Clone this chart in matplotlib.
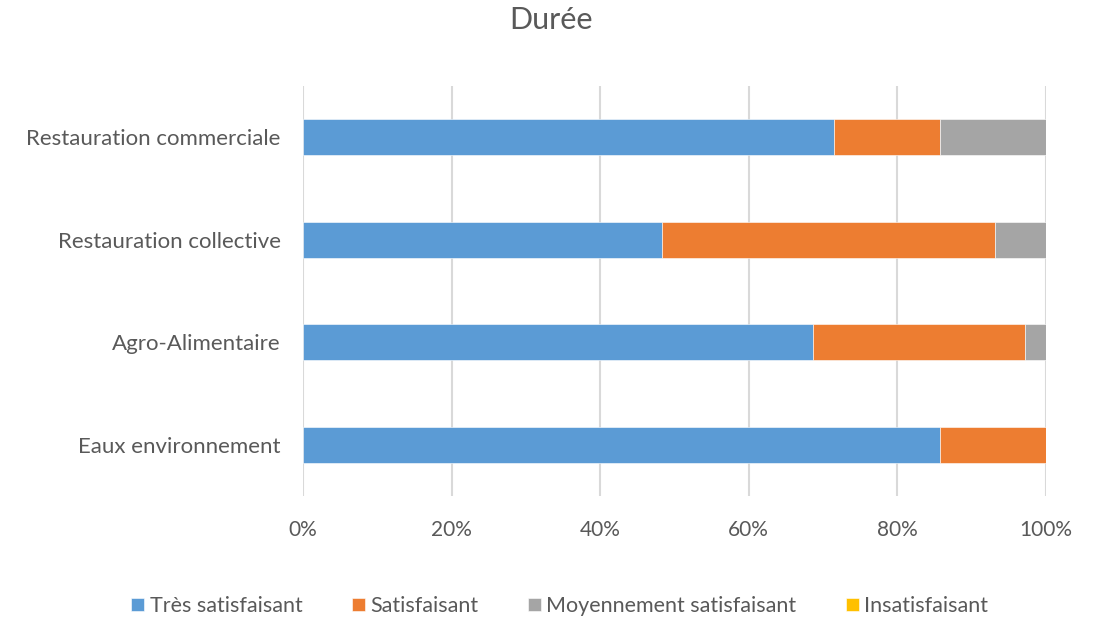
import numpy as np
import matplotlib.pyplot as plt

categories = ['Eaux environnement', 'Agro-Alimentaire', 'Restauration collective', 'Restauration commerciale']
tres_satisfaisant = [85.7, 68.6, 48.3, 71.4]
satisfaisant = [14.3, 28.6, 44.8, 14.3]
moyennement = [0.0, 2.8, 6.9, 14.3]
insatisfaisant = [0.0, 0.0, 0.0, 0.0]

series = [
    ('Très satisfaisant', tres_satisfaisant, '#5b9bd5'),
    ('Satisfaisant', satisfaisant, '#ed7d31'),
    ('Moyennement satisfaisant', moyennement, '#a5a5a5'),
    ('Insatisfaisant', insatisfaisant, '#ffc000'),
]

plt.rcParams['font.family'] = ['Lato', 'DejaVu Sans']
text_color = '#595959'

fig = plt.figure(figsize=(11.02, 6.21), dpi=100)
ax = fig.add_axes([303/1102, 1 - 496/621, (1046-303)/1102, (496-86)/621])

y = np.arange(len(categories))
left = np.zeros(len(categories))
for name, vals, color in series:
    vals = np.array(vals)
    ax.barh(y, vals, left=left, height=0.35, color=color, label=name,
            edgecolor='white', linewidth=0.4, zorder=3)
    left += vals

ax.set_xlim(0, 100)
ax.set_ylim(-0.5, 3.5)
ax.set_xticks(np.arange(0, 101, 20))
ax.set_xticklabels([f'{v}%' for v in range(0, 101, 20)])
ax.set_yticks(y)
ax.set_yticklabels(categories)
ax.tick_params(axis='both', length=0, labelsize=15, colors=text_color)
ax.tick_params(axis='y', labelsize=16, pad=16)
ax.tick_params(axis='x', pad=17)
ax.grid(axis='x', color='#d9d9d9', linewidth=1.5, zorder=0)
for s in ax.spines.values():
    s.set_visible(False)

fig.suptitle('Durée', y=0.99, fontsize=22, color=text_color)

leg = fig.legend(loc='center', bbox_to_anchor=(0.508, 1 - 606/621), ncol=4,
                 frameon=False, fontsize=15.5, handlelength=0.6, handleheight=0.6,
                 handletextpad=0.25, columnspacing=2.3)
for t in leg.get_texts():
    t.set_color(text_color)

fig.savefig('out.png', dpi=100)
